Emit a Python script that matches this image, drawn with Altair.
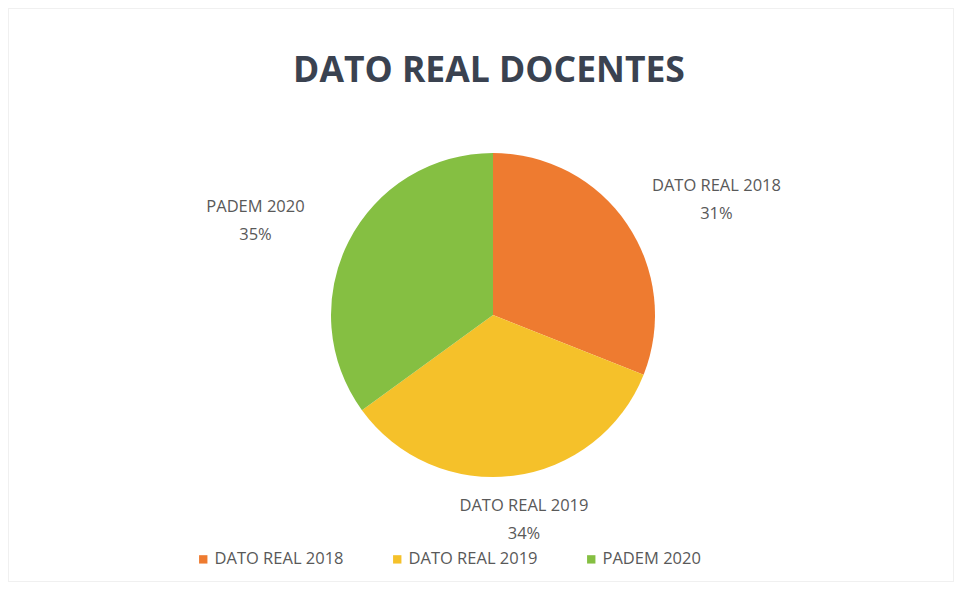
import altair as alt
import pandas as pd

categories = ["DATO REAL 2018", "DATO REAL 2019", "PADEM 2020"]
percentages = [31, 34, 35]
colors = ["#EE7B30", "#F5C12A", "#85BF42"]

df = pd.DataFrame({
    "category": categories,
    "value": percentages,
    "order": [0, 1, 2],
})

W, H = 946, 574
CX, CY = 493 - 8, 315 - 8
R = 162

theta_scale = alt.Scale(domain=[0, 100])

color_enc = alt.Color(
    "category:N",
    scale=alt.Scale(domain=categories, range=colors),
    sort=categories,
    legend=alt.Legend(
        title=None,
        orient="none",
        legendX=195 - 8,
        legendY=551 - 8,
        direction="horizontal",
        symbolType="square",
        symbolSize=70,
        symbolStrokeWidth=0,
        labelFont="Open Sans",
        labelFontSize=16.5,
        labelColor="#595959",
        labelOffset=3,
        columnPadding=45,
        labelLimit=300,
    ),
)

pie = alt.Chart(df).mark_arc(outerRadius=R).encode(
    theta=alt.Theta("value:Q", stack=True, scale=theta_scale),
    order=alt.Order("order:Q"),
    color=color_enc,
    x=alt.value(CX),
    y=alt.value(CY),
)

lab_base = alt.Chart(df).transform_window(
    cum="sum(value)", sort=[alt.SortField("order")], frame=[None, 0]
).transform_calculate(
    mid="datum.cum - datum.value / 2",
    label="datum.category + '\\n' + datum.value + '%'",
)


def label_layer(cat, radius, dx, dy):
    return lab_base.transform_filter(alt.datum.category == cat).mark_text(
        font="Open Sans",
        fontSize=16.5,
        color="#595959",
        lineBreak="\n",
        lineHeight=28,
        align="center",
        baseline="middle",
        radius=radius,
        dx=dx,
        dy=dy,
    ).encode(
        theta=alt.Theta("mid:Q", stack=None, scale=theta_scale),
        text="label:N",
        x=alt.value(CX),
        y=alt.value(CY),
    )


lab18 = label_layer("DATO REAL 2018", 252, 15, 13)
lab19 = label_layer("DATO REAL 2019", 207, 5, -14)
lab20 = label_layer("PADEM 2020", 252, -13, 6)

chart = alt.layer(pie, lab18, lab19, lab20).properties(
    width=W,
    height=H,
    autosize=alt.AutoSizeParams(type="none"),
    padding=0,
    background="white",
    title=alt.TitleParams(
        "DATO REAL DOCENTES",
        font="Open Sans",
        fontSize=35.5,
        fontWeight="bold",
        color="#3A4250",
        anchor="middle",
        offset=-81,
        dx=8,
    ),
).configure_view(stroke="#f0f0f0", strokeWidth=2)

chart.save("out.html", embed_options={"renderer": "svg", "actions": False})
